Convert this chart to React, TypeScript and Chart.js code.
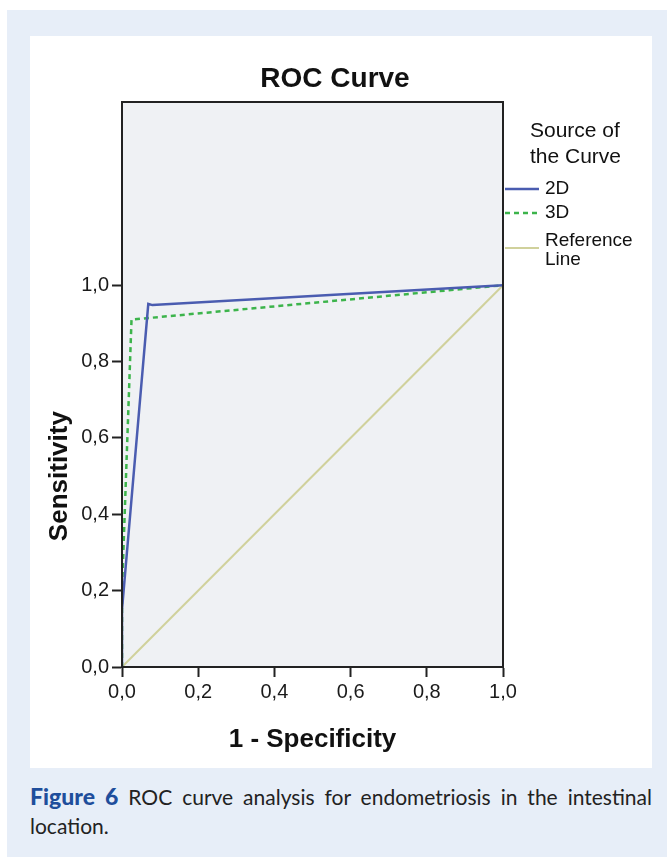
import React, { useEffect, useRef } from 'react';
import { Chart, registerables } from 'chart.js';
Chart.register(...registerables);

// ---- data ----
const tickValues = [0, 0.2, 0.4, 0.6, 0.8, 1.0];
const tickLabels = ['0,0', '0,2', '0,4', '0,6', '0,8', '1,0'];
const seriesNames = ['2D', '3D', 'Reference Line'];
const fpr2D = [0, 0, 0.069, 0.08, 1];
const tpr2D = [0, 0.15, 0.951, 0.948, 1];
const fpr3D = [0, 0, 0.025, 1];
const tpr3D = [0, 0.2, 0.91, 1];
const fprRef = [0, 1];
const tprRef = [0, 1];
const chartTitle = 'ROC Curve';
const xTitle = '1 - Specificity';
const yTitle = 'Sensitivity';
const legendTitle = ['Source of', 'the Curve'];
const captionLabel = 'Figure 6';
const captionLine1 = 'ROC curve analysis for endometriosis in the intestinal';
const captionLine2 = 'location.';

// ---- styles ----
const FONT = '"Liberation Sans", Arial, sans-serif';
const PLOT_BG = '#eff1f4';
const AXIS = '#222222';
const COLORS = ['#4a5cb0', '#3cb44b', '#d0d19c'];

const toPoints = (xs: number[], ys: number[]) => xs.map((x, i) => ({ x, y: ys[i] }));

const decor = {
  id: 'decor',
  beforeDraw(chart: any) {
    const { ctx, chartArea: a } = chart;
    ctx.save();
    ctx.fillStyle = PLOT_BG;
    ctx.fillRect(a.left, a.top, a.right - a.left, a.bottom - a.top);
    ctx.restore();
  },
  afterDraw(chart: any) {
    const { ctx, chartArea: a, scales } = chart;
    ctx.save();
    ctx.strokeStyle = AXIS;
    ctx.lineWidth = 2;
    ctx.strokeRect(a.left, a.top, a.right - a.left, a.bottom - a.top);

    ctx.fillStyle = '#111';
    ctx.textAlign = 'center';
    ctx.textBaseline = 'alphabetic';
    ctx.font = `bold 28px ${FONT}`;
    ctx.fillText(chartTitle, 305, 51);

    const xs = scales.x;
    const ys = scales.y;
    ctx.font = `bold 26px ${FONT}`;
    ctx.fillText(xTitle, (xs.getPixelForValue(0) + xs.getPixelForValue(1)) / 2, 711);

    ctx.save();
    ctx.translate(37, (ys.getPixelForValue(0) + ys.getPixelForValue(1)) / 2);
    ctx.rotate(-Math.PI / 2);
    ctx.fillText(yTitle, 0, 0);
    ctx.restore();

    // legend
    const lx = a.right;
    ctx.textAlign = 'left';
    ctx.font = `21px ${FONT}`;
    ctx.fillText(legendTitle[0], lx + 27, 101);
    ctx.fillText(legendTitle[1], lx + 27, 127);
    const rows = [153, 177, 212];
    chart.data.datasets.forEach((ds: any, i: number) => {
      ctx.save();
      ctx.strokeStyle = ds.borderColor;
      ctx.lineWidth = ds.borderWidth;
      ctx.setLineDash(ds.borderDash || []);
      ctx.beginPath();
      ctx.moveTo(lx + 2, rows[i]);
      ctx.lineTo(lx + 36, rows[i]);
      ctx.stroke();
      ctx.restore();
    });
    ctx.font = `19px ${FONT}`;
    ctx.textBaseline = 'middle';
    ctx.fillText(seriesNames[0], lx + 42, 153);
    ctx.fillText(seriesNames[1], lx + 42, 177);
    const refWords = seriesNames[2].split(' ');
    ctx.fillText(refWords[0], lx + 42, 205);
    ctx.fillText(refWords[1], lx + 42, 224);
    ctx.restore();
  },
};

function ROCChart() {
  const ref = useRef<HTMLCanvasElement>(null);
  useEffect(() => {
    if (!ref.current) return;
    const axisCommon = {
      type: 'linear',
      grid: { drawOnChartArea: false, drawTicks: true, tickLength: 10, tickWidth: 2, tickColor: AXIS, color: AXIS },
      border: { display: true, color: AXIS, width: 2 },
      afterBuildTicks: (s: any) => { s.ticks = tickValues.map((v) => ({ value: v })); },
      ticks: {
        autoSkip: false,
        maxRotation: 0,
        padding: 3,
        color: '#1a1a1a',
        font: { size: 20, family: FONT },
        callback: (_v: any, i: number) => tickLabels[i],
      },
    };
    const chart = new Chart(ref.current, {
      type: 'scatter',
      data: {
        datasets: [
          { label: seriesNames[0], data: toPoints(fpr2D, tpr2D), borderColor: COLORS[0], borderWidth: 2.5, showLine: true, pointRadius: 0, fill: false },
          { label: seriesNames[1], data: toPoints(fpr3D, tpr3D), borderColor: COLORS[1], borderWidth: 2.5, borderDash: [5, 4], showLine: true, pointRadius: 0, fill: false },
          { label: seriesNames[2], data: toPoints(fprRef, tprRef), borderColor: COLORS[2], borderWidth: 2, showLine: true, pointRadius: 0, fill: false },
        ],
      },
      options: {
        animation: false,
        responsive: false,
        maintainAspectRatio: false,
        devicePixelRatio: 1,
        layout: { padding: { left: 0, top: 66, right: 149, bottom: 0 } },
        plugins: { legend: { display: false }, tooltip: { enabled: false }, title: { display: false } },
        scales: {
          x: { ...axisCommon, min: 0, max: 1, afterFit: (s: any) => { s.height = 101; } },
          y: { ...axisCommon, min: 0, max: 1.48, afterFit: (s: any) => { s.width = 92; } },
        },
      } as any,
      plugins: [decor],
    } as any);
    return () => chart.destroy();
  }, []);
  return <canvas ref={ref} width={622} height={732} style={{ display: 'block', width: 622, height: 732 }} />;
}

export default function App() {
  return (
    <div style={{ position: 'fixed', left: 0, top: 0, width: 667, height: 857, background: '#ffffff', overflow: 'hidden' }}>
      <div style={{ position: 'absolute', left: 7, top: 10, right: 0, bottom: 0, background: '#e7eef8' }} />
      <div style={{ position: 'absolute', left: 30, top: 36, width: 622, height: 732, background: '#ffffff' }}>
        <ROCChart />
      </div>
      <div style={{ position: 'absolute', left: 30, top: 782, width: 622, fontFamily: 'Lato, "Open Sans", sans-serif', fontSize: 21, lineHeight: '29px', color: '#222' }}>
        <div style={{ textAlign: 'justify', textAlignLast: 'justify' as any }}>
          <b style={{ color: '#1f4e9c', fontSize: 23, fontWeight: 900 }}>{captionLabel}</b> {captionLine1}
        </div>
        <div>{captionLine2}</div>
      </div>
    </div>
  );
}
